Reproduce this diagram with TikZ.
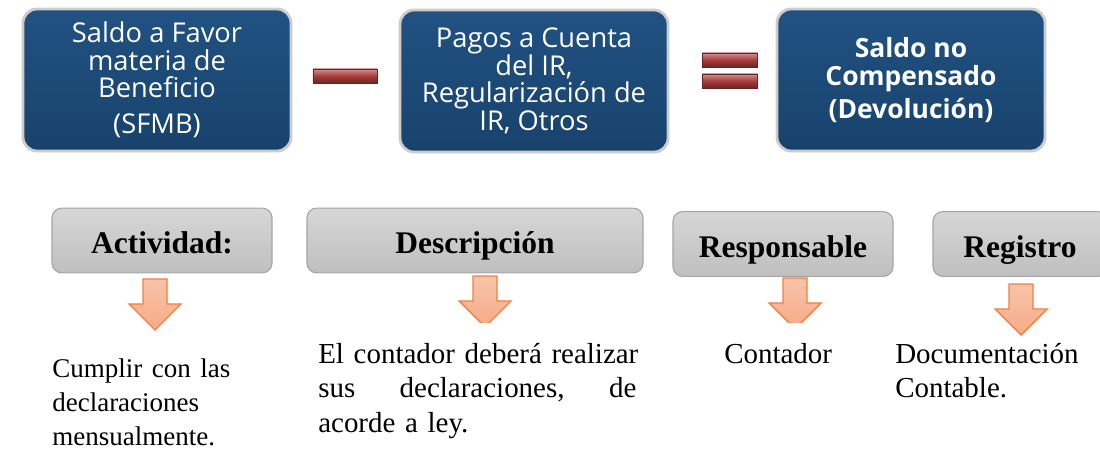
\documentclass[tikz,border=0pt]{standalone}
\usepackage{fontspec}
\setmainfont{Liberation Serif}
\newfontfamily\boxfont{Open Sans}
\usetikzlibrary{positioning,shadows}

\definecolor{sumbluetop}{RGB}{33,82,130}
\definecolor{sumbluebot}{RGB}{24,66,108}
\definecolor{barred}{RGB}{168,58,58}
\definecolor{arrowfill}{RGB}{246,176,142}
\definecolor{arrowline}{RGB}{240,128,64}

\tikzset{
  sumbox/.style={rounded corners=10pt, top color=sumbluetop, bottom color=sumbluebot,
    draw=black!20, line width=2pt,
    drop shadow={opacity=0.3, shadow xshift=0.8pt, shadow yshift=-0.8pt},
    text=white, align=center, font=\boxfont\fontsize{19.4}{19.5}\selectfont,
    minimum width=6.7cm, minimum height=3.55cm, inner sep=0pt},
  opbar/.style={top color=barred!55!white, bottom color=barred!65!black, middle color=barred,
    draw=barred!60!black, line width=0.4pt, minimum width=1.6cm, minimum height=0.35cm,
    inner sep=0pt},
  headbox/.style={rounded corners=7pt, top color=black!16, bottom color=black!25,
    draw=black!35, line width=0.8pt, font=\fontsize{22.4}{26}\selectfont\bfseries,
    text height=20.5pt, text depth=1.5pt, minimum height=1.62cm, inner sep=0pt},
  blockarrow/.style={top color=arrowfill!75!white, bottom color=arrowfill!90!arrowline,
    draw=arrowline, line width=1pt, line join=miter},
  bodytext/.style={inner sep=0pt, anchor=north west, align=left,
    font=\fontsize{20.6}{24.5}\selectfont},
}

% block arrow pointing down: centre x, top y, clip y
\newcommand{\downblock}[3]{%
  \begin{scope}
    \clip (#1-30,#2-3) rectangle (#1+30,#3);
    \path[blockarrow] (#1-12,#2) -- (#1+12,#2) -- (#1+12,#2+25) -- (#1+26,#2+25)
      -- (#1,#2+51) -- (#1-26,#2+25) -- (#1-12,#2+25) -- cycle;
  \end{scope}}

\begin{document}
\begin{tikzpicture}[x=0.025cm, y=-0.025cm]
\clip (0,0) rectangle (1100,452);

% top row
\node[sumbox] (saldo) at (157,80) {Saldo a Favor\\materia de\\Beneficio\\[6pt](SFMB)};
\node[sumbox] (pagos) at (534,81) {Pagos a Cuenta\\del IR,\\Regularización de\\IR, Otros};
\node[sumbox, font=\boxfont\bfseries\fontsize{18.8}{19.5}\selectfont] (nocomp) at (911,80)
  {Saldo no\\Compensado\\[4pt](Devolución)};

% signs
\node[opbar] (menos) at (345,76) {};
\node[opbar, minimum width=1.375cm] (igualA) at (730,60) {};
\node[opbar, minimum width=1.375cm] (igualB) at (730,81) {};

% headings
\node[headbox, minimum width=5.5cm] (act) at (162,240.5) {Actividad:};
\node[headbox, minimum width=8.4cm] (desc) at (475,240.5) {Descripción};
\node[headbox, minimum width=5.5cm] (resp) at (783,244) {Responsable};
\node[headbox, minimum width=4.35cm] (reg) at (1020,244) {Registro};

% arrows
\downblock{155}{279}{335}
\downblock{485}{276}{323}
\downblock{795}{278}{323}
\downblock{1021}{284}{340}

% texts
\node[bodytext, text width=4.45cm, font=\fontsize{19.2}{24.5}\selectfont] (acttxt) at (52,358)
  {Cumplir\hfill con\hfill las\\declaraciones\\mensualmente.};
\node[bodytext, text width=7.95cm] (desctxt) at (318,343)
  {\mbox{El contador deberá realizar}\\sus\hfill declaraciones,\hfill de\\acorde a ley.};
\node[bodytext] (resptxt) at (724,343) {Contador};
\node[bodytext] (regtxt) at (895,343) {Documentación\\Contable.};

\end{tikzpicture}
\end{document}
